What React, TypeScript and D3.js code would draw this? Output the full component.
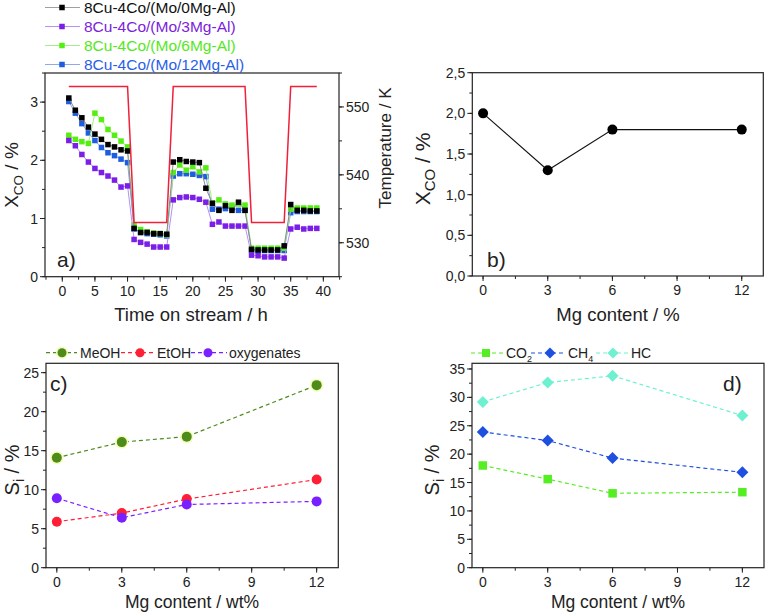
import React from "react";
import * as d3 from "d3";

const hours = [1,2,3,4,5,6,7,8,9,10,11,12,13,14,15,16,17,18,19,20,21,22,23,24,25,26,27,28,29,30,31,32,33,34,35,36,37,38,39];
const xco0Mg = [3.07,2.86,2.73,2.57,2.45,2.36,2.27,2.23,2.18,2.16,0.83,0.76,0.76,0.74,0.74,0.73,1.97,2.01,1.98,1.97,1.96,1.52,1.26,1.14,1.22,1.14,1.28,1.14,0.47,0.46,0.46,0.46,0.46,0.53,1.24,1.14,1.14,1.13,1.13];
const xco3Mg = [2.34,2.25,2.10,1.97,1.86,1.79,1.73,1.66,1.54,1.56,0.64,0.59,0.56,0.51,0.51,0.51,1.32,1.36,1.37,1.36,1.33,1.28,0.90,0.94,0.87,0.87,0.87,0.87,0.37,0.36,0.34,0.34,0.34,0.32,0.82,0.85,0.82,0.83,0.83];
const xco6Mg = [2.43,2.36,2.32,2.29,2.81,2.70,2.53,2.43,2.33,2.23,0.89,0.81,0.77,0.75,0.74,0.72,1.79,1.92,1.83,1.89,1.80,1.87,1.27,1.32,1.25,1.23,1.25,1.23,0.49,0.49,0.49,0.49,0.49,0.49,1.16,1.18,1.18,1.18,1.18];
const xco12Mg = [3.01,2.81,2.63,2.47,2.34,2.22,2.13,2.08,2.02,1.96,0.82,0.76,0.74,0.73,0.72,0.70,1.73,1.77,1.77,1.76,1.74,1.72,1.16,1.16,1.17,1.18,1.14,1.14,0.45,0.45,0.45,0.45,0.45,0.45,1.10,1.12,1.12,1.12,1.12];
const tempTime = [1,10,11,16,17,28,29,34,35,39];
const tempK = [553,553,533,533,553,553,533,533,553,553];
const seriesNames = ["8Cu-4Co/(Mo/0Mg-Al)","8Cu-4Co/(Mo/3Mg-Al)","8Cu-4Co/(Mo/6Mg-Al)","8Cu-4Co/(Mo/12Mg-Al)"];

const mg = [0,3,6,12];
const xcoMg = [2.0,1.3,1.8,1.8];
const sMeOH = [14.1,16.1,16.8,23.4];
const sEtOH = [5.9,7.0,8.8,11.3];
const sOxy = [8.9,6.4,8.1,8.5];
const sCO2 = [18.0,15.6,13.1,13.3];
const sCH4 = [23.9,22.4,19.3,16.8];
const sHC = [29.2,32.6,33.8,26.8];

const aTicksX = [0,5,10,15,20,25,30,35,40];
const aTicksY = [0,1,2,3];
const aTicksT = [530,540,550];
const mgTicks = [0,3,6,9,12];
const bTicksY = [0,0.5,1,1.5,2,2.5];
const cTicksY = [0,5,10,15,20,25];
const dTicksY = [0,5,10,15,20,25,30,35];

const FONT = "'Liberation Sans', Arial, sans-serif";

function range(a: number, b: number, step: number) {
  const out: number[] = [];
  for (let v = a; v <= b + 1e-9; v += step) out.push(+v.toFixed(6));
  return out;
}

type Sc = d3.ScaleLinear<number, number>;

function Frame({ x, y }: { x: Sc; y: Sc }) {
  const [x0, x1] = x.range();
  const [y0, y1] = y.range();
  return <rect x={x0} y={y1} width={x1 - x0} height={y0 - y1} fill="none" stroke="#222" strokeWidth={1.2} />;
}

function BottomAxis({ x, y, major, minor, fmt }: { x: Sc; y: number; major: number[]; minor: number[]; fmt?: (v: number) => string }) {
  return (
    <g>
      {minor.map((v, i) => <line key={"m" + i} x1={x(v)} x2={x(v)} y1={y} y2={y + 3} stroke="#222" />)}
      {major.map((v, i) => (
        <g key={i}>
          <line x1={x(v)} x2={x(v)} y1={y} y2={y + 5} stroke="#222" />
          <text x={x(v)} y={y + 19} textAnchor="middle" fontSize={14} fontFamily={FONT} fill="#222">{fmt ? fmt(v) : v}</text>
        </g>
      ))}
    </g>
  );
}

function LeftAxis({ y, x, major, minor, fmt }: { y: Sc; x: number; major: number[]; minor: number[]; fmt?: (v: number) => string }) {
  return (
    <g>
      {minor.map((v, i) => <line key={"m" + i} x1={x} x2={x - 3} y1={y(v)} y2={y(v)} stroke="#222" />)}
      {major.map((v, i) => (
        <g key={i}>
          <line x1={x} x2={x - 5} y1={y(v)} y2={y(v)} stroke="#222" />
          <text x={x - 7} y={y(v) + 5} textAnchor="end" fontSize={14} fontFamily={FONT} fill="#222">{fmt ? fmt(v) : v}</text>
        </g>
      ))}
    </g>
  );
}

function RightAxis({ y, x, major, minor }: { y: Sc; x: number; major: number[]; minor: number[] }) {
  return (
    <g>
      {minor.map((v, i) => <line key={"m" + i} x1={x} x2={x + 3} y1={y(v)} y2={y(v)} stroke="#222" />)}
      {major.map((v, i) => (
        <g key={i}>
          <line x1={x} x2={x + 5} y1={y(v)} y2={y(v)} stroke="#222" />
          <text x={x + 7} y={y(v) + 5} textAnchor="start" fontSize={14} fontFamily={FONT} fill="#222">{v}</text>
        </g>
      ))}
    </g>
  );
}

function Square({ cx, cy, s, fill }: { cx: number; cy: number; s: number; fill: string }) {
  return <rect x={cx - s / 2} y={cy - s / 2} width={s} height={s} fill={fill} />;
}
function Diamond({ cx, cy, s, fill }: { cx: number; cy: number; s: number; fill: string }) {
  const h = s / 2;
  return <path d={`M${cx},${cy - h}L${cx + h},${cy}L${cx},${cy + h}L${cx - h},${cy}Z`} fill={fill} />;
}

export default function App() {
  // Panel a
  const ax = d3.scaleLinear().domain([-2.65, 42.4]).range([45, 339]);
  const ay = d3.scaleLinear().domain([0, 3.5]).range([276.7, 73]);
  const at = d3.scaleLinear().domain([525, 555]).range([276.7, 73]);
  const aSeries = [
    { v: xco12Mg, c: "#1e5ce0", lc: "#90aae6" },
    { v: xco6Mg, c: "#55ee11", lc: "#a6ee8a" },
    { v: xco3Mg, c: "#7b1fe8", lc: "#b891ee" },
    { v: xco0Mg, c: "#000000", lc: "#8a8a8a" },
  ];
  const legA = [
    { n: seriesNames[0], c: "#000000", lc: "#a0a0a0", tc: "#111" },
    { n: seriesNames[1], c: "#7b1fe8", lc: "#b891ee", tc: "#7b22dd" },
    { n: seriesNames[2], c: "#55ee11", lc: "#a6ee8a", tc: "#55e822" },
    { n: seriesNames[3], c: "#1e5ce0", lc: "#90aae6", tc: "#2a5ee8" },
  ];
  const lineA = (vals: number[]) => d3.line<number>().x((_, i) => ax(hours[i])).y((d) => ay(d))(vals) || "";
  const tempLine = d3.line<number>().x((_, i) => ax(tempTime[i])).y((d) => at(d))(tempK) || "";

  // Panel b
  const bx = d3.scaleLinear().domain([-0.5, 13]).range([472.3, 763.3]);
  const by = d3.scaleLinear().domain([0, 2.5]).range([276, 72.7]);
  const lineB = d3.line<number>().x((_, i) => bx(mg[i])).y((d) => by(d))(xcoMg) || "";

  // Panel c
  const cx = d3.scaleLinear().domain([-0.5, 13]).range([46, 338.3]);
  const cy = d3.scaleLinear().domain([0, 26.2]).range([567.7, 363.3]);
  const lineC = (vals: number[]) => d3.line<number>().x((_, i) => cx(mg[i])).y((d) => cy(d))(vals) || "";
  const cSeries = [
    { v: sMeOH, c: "#4f8a1c", halo: "#f0ffb0" },
    { v: sEtOH, c: "#ff1f35", halo: "none" },
    { v: sOxy, c: "#7a1fff", halo: "none" },
  ];

  // Panel d
  const dx = d3.scaleLinear().domain([-0.5, 13]).range([472, 764]);
  const dy = d3.scaleLinear().domain([0, 36]).range([567.7, 363.3]);
  const lineD = (vals: number[]) => d3.line<number>().x((_, i) => dx(mg[i])).y((d) => dy(d))(vals) || "";

  const comma = (v: number) => v.toFixed(1).replace(".", ",");

  return (
    <svg width={766} height={614} style={{ position: "absolute", left: 0, top: 0, background: "#fff" }} fontFamily={FONT}>
      {/* ===== Panel a ===== */}
      <g>
        {aSeries.map((s, k) => (
          <g key={k}>
            <path d={lineA(s.v)} fill="none" stroke={s.lc} strokeWidth={1} />
            {s.v.map((v, i) => <Square key={i} cx={ax(hours[i])} cy={ay(v)} s={5.5} fill={s.c} />)}
          </g>
        ))}
        <path d={tempLine} fill="none" stroke="#f0203a" strokeWidth={1.5} />
        <Frame x={ax} y={ay} />
        <BottomAxis x={ax} y={276.7} major={aTicksX} minor={range(-2.5, 42.5, 2.5)} />
        <LeftAxis y={ay} x={45} major={aTicksY} minor={range(0, 3.5, 0.5)} />
        <RightAxis y={at} x={339} major={aTicksT} minor={range(525, 555, 5)} />
        <text x={57} y={267} fontSize={21} fill="#222">a)</text>
        <text x={191} y={321} textAnchor="middle" fontSize={18.5} fill="#222">Time on stream / h</text>
        <text transform="translate(18,175) rotate(-90)" textAnchor="middle" fontSize={19} fill="#222">
          X<tspan fontSize={13.5} dy={5}>CO</tspan><tspan dy={-5}> / %</tspan>
        </text>
        <text transform="translate(391,148) rotate(-90)" textAnchor="middle" fontSize={17} fill="#222">Temperature / K</text>
        {legA.map((l, i) => {
          const yy = 7.5 + i * 19;
          return (
            <g key={i}>
              <line x1={45} x2={80} y1={yy} y2={yy} stroke={l.lc} strokeWidth={1.2} />
              <Square cx={62} cy={yy} s={5.5} fill={l.c} />
              <text x={84} y={yy + 5.5} fontSize={15.5} fill={l.tc}>{l.n}</text>
            </g>
          );
        })}
      </g>

      {/* ===== Panel b ===== */}
      <g>
        <path d={lineB} fill="none" stroke="#111" strokeWidth={1.1} />
        {xcoMg.map((v, i) => <circle key={i} cx={bx(mg[i])} cy={by(v)} r={5} fill="#000" />)}
        <Frame x={bx} y={by} />
        <BottomAxis x={bx} y={276} major={mgTicks} minor={range(0, 12, 1.5)} />
        <LeftAxis y={by} x={472.3} major={bTicksY} minor={range(0, 2.5, 0.25)} fmt={comma} />
        <text x={487} y={267} fontSize={21} fill="#222">b)</text>
        <text x={618} y={321} textAnchor="middle" fontSize={18.5} fill="#222">Mg content / %</text>
        <text transform="translate(430,169) rotate(-90)" textAnchor="middle" fontSize={21} fill="#222">
          X<tspan fontSize={15} dy={5}>CO</tspan><tspan dy={-5}> / %</tspan>
        </text>
      </g>

      {/* ===== Panel c ===== */}
      <g>
        {cSeries.map((s, k) => (
          <g key={k}>
            <path d={lineC(s.v)} fill="none" stroke={s.c} strokeWidth={1.2} strokeDasharray="4,3" />
            {s.v.map((v, i) => (
              <g key={i}>
                {s.halo !== "none" && <circle cx={cx(mg[i])} cy={cy(v)} r={6.5} fill={s.halo} />}
                <circle cx={cx(mg[i])} cy={cy(v)} r={5} fill={s.c} />
              </g>
            ))}
          </g>
        ))}
        <Frame x={cx} y={cy} />
        <BottomAxis x={cx} y={567.7} major={mgTicks} minor={range(0, 12, 1.5)} />
        <LeftAxis y={cy} x={46} major={cTicksY} minor={range(0, 25, 2.5)} />
        <text x={50} y={391} fontSize={21} fill="#222">c)</text>
        <text x={192} y={608} textAnchor="middle" fontSize={17.5} fill="#222">Mg content / wt%</text>
        <text transform="translate(19,470) rotate(-90)" textAnchor="middle" fontSize={20} fill="#222">
          S<tspan fontSize={14} dy={5}>i</tspan><tspan dy={-5}> / %</tspan>
        </text>
        {[
          { n: "MeOH", c: "#4f8a1c", x1: 46, x2: 77, m: 62, tx: 80 },
          { n: "EtOH", c: "#ff1f35", x1: 121, x2: 154, m: 140, tx: 157 },
          { n: "oxygenates", c: "#7a1fff", x1: 191, x2: 227, m: 208, tx: 229 },
        ].map((l, i) => (
          <g key={i}>
            <line x1={l.x1} x2={l.x2} y1={352.7} y2={352.7} stroke={l.c} strokeWidth={1.2} strokeDasharray="4,3" />
            {i === 0 && <circle cx={l.m} cy={352.7} r={6} fill="#f0ffb0" />}
            <circle cx={l.m} cy={352.7} r={4.5} fill={l.c} />
            <text x={l.tx} y={357.5} fontSize={14} fill="#222">{l.n}</text>
          </g>
        ))}
      </g>

      {/* ===== Panel d ===== */}
      <g>
        <path d={lineD(sCO2)} fill="none" stroke="#55ee22" strokeWidth={1.2} strokeDasharray="4,3" />
        <path d={lineD(sCH4)} fill="none" stroke="#1f4fe0" strokeWidth={1.2} strokeDasharray="4,3" />
        <path d={lineD(sHC)} fill="none" stroke="#6ff0d0" strokeWidth={1.2} strokeDasharray="4,3" />
        {sCO2.map((v, i) => <Square key={i} cx={dx(mg[i])} cy={dy(v)} s={8.5} fill="#55ee22" />)}
        {sCH4.map((v, i) => <Diamond key={i} cx={dx(mg[i])} cy={dy(v)} s={12} fill="#1f4fe0" />)}
        {sHC.map((v, i) => <Diamond key={i} cx={dx(mg[i])} cy={dy(v)} s={12} fill="#6ff0d0" />)}
        <Frame x={dx} y={dy} />
        <BottomAxis x={dx} y={567.7} major={mgTicks} minor={range(0, 12, 1.5)} />
        <LeftAxis y={dy} x={472} major={dTicksY} minor={range(0, 35, 2.5)} />
        <text x={723} y={391} fontSize={21} fill="#222">d)</text>
        <text x={618} y={608} textAnchor="middle" fontSize={17.5} fill="#222">Mg content / wt%</text>
        <text transform="translate(439,470) rotate(-90)" textAnchor="middle" fontSize={20} fill="#222">
          S<tspan fontSize={14} dy={5}>i</tspan><tspan dy={-5}> / %</tspan>
        </text>
        <line x1={471} x2={503} y1={353} y2={353} stroke="#55ee22" strokeWidth={1.2} strokeDasharray="4,3" />
        <Square cx={486} cy={353} s={8} fill="#55ee22" />
        <text x={506} y={358} fontSize={14} fill="#222">CO<tspan fontSize={9} dy={4}>2</tspan></text>
        <line x1={531} x2={566} y1={353} y2={353} stroke="#1f4fe0" strokeWidth={1.2} strokeDasharray="4,3" />
        <Diamond cx={550} cy={353} s={11} fill="#1f4fe0" />
        <text x={568} y={358} fontSize={14} fill="#222">CH<tspan fontSize={9} dy={4}>4</tspan></text>
        <line x1={596} x2={629} y1={353} y2={353} stroke="#6ff0d0" strokeWidth={1.2} strokeDasharray="4,3" />
        <Diamond cx={613} cy={353} s={11} fill="#6ff0d0" />
        <text x={631} y={358} fontSize={14} fill="#222">HC</text>
      </g>
    </svg>
  );
}
